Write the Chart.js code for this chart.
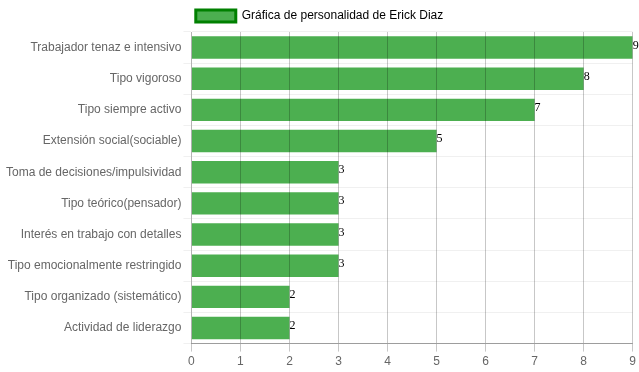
<!DOCTYPE html>
<html>
<head>
<meta charset="utf-8">
<script src="https://cdn.jsdelivr.net/npm/chart.js@4"></script>
<style>
  html, body { margin: 0; padding: 0; background: #fff; }
  #wrap { width: 639px; height: 372px; }
</style>
</head>
<body>
<div id="wrap"><canvas id="chart"></canvas></div>
<script>
// Data
const categories = [
  "Trabajador tenaz e intensivo",
  "Tipo vigoroso",
  "Tipo siempre activo",
  "Extensión social(sociable)",
  "Toma de decisiones/impulsividad",
  "Tipo teórico(pensador)",
  "Interés en trabajo con detalles",
  "Tipo emocionalmente restringido",
  "Tipo organizado (sistemático)",
  "Actividad de liderazgo"
];
const scores = [9, 8, 7, 5, 3, 3, 3, 3, 2, 2];
const seriesName = "Gráfica de personalidad de Erick Diaz";

// Value labels at the end of each bar
const valueLabels = {
  id: "valueLabels",
  afterDatasetsDraw(chart) {
    const ctx = chart.ctx;
    ctx.save();
    ctx.font = "12px 'Liberation Serif', serif";
    ctx.fillStyle = "#000";
    ctx.textAlign = "left";
    ctx.textBaseline = "alphabetic";
    chart.getDatasetMeta(0).data.forEach((bar, i) => {
      ctx.fillText(scores[i], bar.x, bar.y + 1);
    });
    ctx.restore();
  }
};

new Chart(document.getElementById("chart").getContext("2d"), {
  type: "bar",
  data: {
    labels: categories,
    datasets: [{
      label: seriesName,
      data: scores,
      backgroundColor: "#4caf50",
      borderColor: "#008000",
      borderWidth: 0
    }]
  },
  options: {
    indexAxis: "y",
    responsive: true,
    maintainAspectRatio: false,
    animation: false,
    layout: { padding: { left: 4, right: 4 } },
    plugins: {
      legend: {
        labels: {
          color: "#666",
          font: { size: 12 },
          generateLabels: (chart) => [{
            text: seriesName,
            fillStyle: "#4caf50",
            strokeStyle: "#008000",
            lineWidth: 3,
            datasetIndex: 0
          }]
        }
      },
      tooltip: { enabled: false }
    },
    scales: {
      x: {
        min: 0,
        max: 9,
        ticks: { stepSize: 1, color: "#666", font: { size: 12 } },
        grid: { color: "rgba(0,0,0,0.22)", z: 1 },
        border: { color: "rgba(0,0,0,0.35)", z: 1 }
      },
      y: {
        ticks: { color: "#666", font: { size: 12 }, padding: 2 },
        grid: { color: "rgba(0,0,0,0.06)" },
        border: { color: "rgba(0,0,0,0.1)" }
      }
    }
  },
  plugins: [valueLabels]
});
</script>
</body>
</html>
